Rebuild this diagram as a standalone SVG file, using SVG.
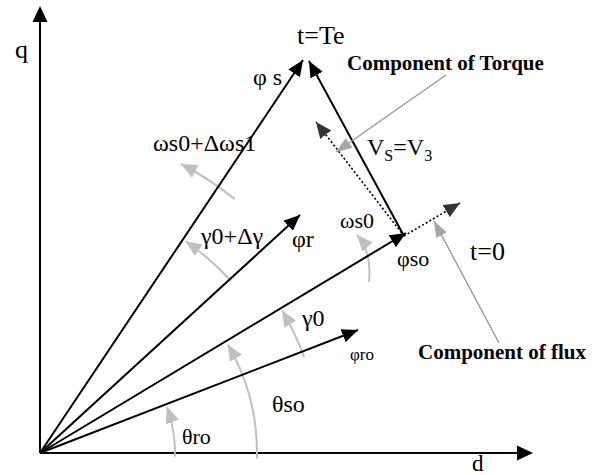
<svg xmlns="http://www.w3.org/2000/svg" width="599" height="475" viewBox="0 0 599 475">
<style>
.ax{stroke:#000;stroke-width:2;fill:none}
.vec{stroke:#000;stroke-width:2;fill:none;marker-end:url(#ba)}
.dot{stroke:#000;stroke-width:1.6;fill:none;stroke-dasharray:2 2.2;marker-end:url(#da)}
.arc{stroke:#bfbfbf;stroke-width:2;fill:none;marker-end:url(#ga)}
.lead{stroke:#999;stroke-width:1.4;fill:none;marker-end:url(#la)}
text{font-family:"Liberation Serif","Times New Roman",serif;fill:#000}
.b{font-weight:bold;font-size:21px}
</style>
<defs>
<marker id="ba" markerUnits="userSpaceOnUse" markerWidth="17" markerHeight="14" refX="16" refY="7" orient="auto"><path d="M0,0 L16,7 L0,14 z" fill="#000"/></marker>
<marker id="da" markerUnits="userSpaceOnUse" markerWidth="17" markerHeight="14" refX="16" refY="7" orient="auto"><path d="M0,0 L16,7 L0,14 z" fill="#333"/></marker>
<marker id="ga" markerUnits="userSpaceOnUse" markerWidth="17" markerHeight="14" refX="16" refY="7" orient="auto"><path d="M0,0 L16,7 L0,14 z" fill="#bfbfbf"/></marker>
<marker id="la" markerUnits="userSpaceOnUse" markerWidth="17" markerHeight="14" refX="16" refY="6" orient="auto"><path d="M0,0 L16,6 L0,12 z" fill="#a6a6a6"/></marker>
</defs>
<g id="axes">
<line class="ax" x1="40" y1="453" x2="40" y2="20"/>
<path d="M40,6 L47.5,22 L32.5,22 z" fill="#000"/>
<line class="ax" x1="40" y1="453" x2="518" y2="453"/>
<path d="M533,453 L517,445.5 L517,460.5 z" fill="#000"/>
</g>
<g id="arcs">
<path class="arc" d="M174.95,456.5 A135,135 0 0 0 166.9,406.8"/>
<path class="arc" d="M256.9,458.7 A217,217 0 0 0 227.9,344.5"/>
<path class="arc" d="M304.1,356.9 A281,281 0 0 0 282.1,310.4"/>
<path class="arc" d="M231,281 A257,257 0 0 0 185.6,241.2"/>
<path class="arc" d="M234.8,199.1 A320,320 0 0 0 181,164"/>
<path class="arc" d="M369,282 Q372,252 357,235"/>
</g>
<g id="connectors">
<line class="vec" x1="40" y1="453" x2="303" y2="60"/>
<line class="vec" x1="40" y1="453" x2="300" y2="215"/>
<line class="vec" x1="40" y1="453" x2="406" y2="233"/>
<line class="vec" x1="40" y1="453" x2="358" y2="330"/>
<line class="vec" x1="404" y1="236" x2="309" y2="61"/>
<line class="dot" x1="404" y1="236" x2="316" y2="122"/>
<line class="dot" x1="404" y1="236" x2="460" y2="203"/>
<line class="lead" x1="446" y1="75" x2="336" y2="152"/>
<line class="lead" x1="499" y1="343" x2="434" y2="221"/>
</g>
<g id="labels">
<text x="15" y="58" font-size="26">q</text>
<text x="472" y="471" font-size="23">d</text>
<text x="297" y="44" font-size="26">t=Te</text>
<text x="470" y="260" font-size="26">t=0</text>
<text x="253" y="85" font-size="24">φ s</text>
<text x="153" y="151" font-size="24">ωs0+Δωs1</text>
<text x="201" y="244" font-size="24">γ0+Δγ</text>
<text x="292" y="247" font-size="24">φr</text>
<text x="340" y="228" font-size="22">ωs0</text>
<text x="397" y="266" font-size="22">φso</text>
<text x="302" y="326" font-size="24">γ0</text>
<text x="350" y="360" font-size="17">φro</text>
<text x="272" y="412" font-size="24">θso</text>
<text x="182" y="444" font-size="22">θro</text>
<text x="367" y="155" font-size="24">V<tspan font-size="16" dy="6">S</tspan><tspan dy="-6">=V</tspan><tspan font-size="16" dy="6">3</tspan></text>
<text class="b" x="347" y="70">Component of Torque</text>
<text class="b" x="418" y="359">Component of flux</text>
</g>
</svg>
